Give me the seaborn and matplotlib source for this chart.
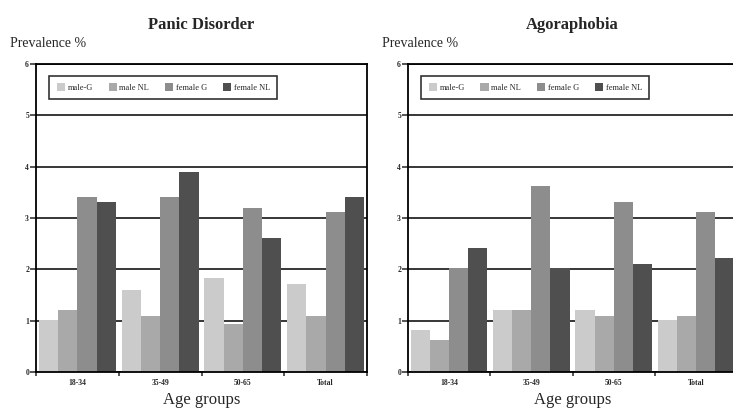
import matplotlib
matplotlib.use('Agg')
import matplotlib.pyplot as plt
import numpy as np
import pandas as pd
import seaborn as sns

# Данные графиков.
age_groups = ['18-34', '35-49', '50-65', 'Total']
groups = ['male-G', 'male NL', 'female G', 'female NL']
panic_male_g = [1.01, 1.60, 1.83, 1.72]
panic_male_nl = [1.20, 1.09, 0.94, 1.09]
panic_female_g = [3.40, 3.40, 3.20, 3.12]
panic_female_nl = [3.32, 3.90, 2.61, 3.40]
agora_male_g = [0.82, 1.20, 1.20, 1.01]
agora_male_nl = [0.62, 1.20, 1.09, 1.09]
agora_female_g = [2.02, 3.62, 3.32, 3.12]
agora_female_nl = [2.42, 2.02, 2.10, 2.22]
titles = ['Panic Disorder', 'Agoraphobia']
legend_labels = ['male-G', 'male NL', 'female G', 'female NL']

colors = ['#cbcbcb', '#a9a9a9', '#8d8d8d', '#4f4f4f']


def make_frame(series):
    rows = []
    for name, values in zip(groups, series):
        for age, v in zip(age_groups, values):
            rows.append({'age': age, 'group': name, 'value': v})
    return pd.DataFrame(rows)


frames = [
    make_frame([panic_male_g, panic_male_nl, panic_female_g, panic_female_nl]),
    make_frame([agora_male_g, agora_male_nl, agora_female_g, agora_female_nl]),
]

sns.set_style('white')
plt.rcParams['font.family'] = ['Liberation Serif', 'DejaVu Serif']

fig = plt.figure(figsize=(7.33, 4.09), dpi=100)
W, H = 733, 409
positions = [
    [36 / W, 37 / H, 331 / W, 308 / H],
    [408 / W, 37 / H, 329 / W, 308 / H],
]

for i, (frame, title, pos) in enumerate(zip(frames, titles, positions)):
    ax = fig.add_axes(pos)
    ax.set_axisbelow(True)
    sns.barplot(
        data=frame,
        x='age',
        y='value',
        hue='group',
        palette=colors,
        width=0.93,
        gap=0,
        saturation=1,
        linewidth=0,
        ax=ax,
    )
    ax.set_ylim(0, 6)
    ax.set_xlim(-0.5, 3.5)
    ax.set_yticks(np.arange(0, 7, 1))
    ax.set_yticklabels([str(v) for v in range(7)], fontsize=5.5,
                       fontweight='bold')
    ax.yaxis.grid(True, color='black', linewidth=1.1)
    ax.tick_params(axis='y', direction='out', length=4, width=1.1,
                   left=True, pad=1)
    # Деления между группами на оси X.
    ax.set_xticks(np.arange(4))
    ax.set_xticklabels(age_groups, fontsize=5.5, fontweight='bold')
    ax.set_xticks(np.arange(-0.5, 4.0, 1), minor=True)
    ax.tick_params(axis='x', which='major', length=0, pad=5)
    ax.tick_params(axis='x', which='minor', direction='out', length=3,
                   width=1.1, bottom=True)
    for s in ax.spines.values():
        s.set_visible(True)
        s.set_color('black')
        s.set_linewidth(1.3)
    ax.set_xlabel('Age groups', fontsize=12, labelpad=4)
    ax.set_ylabel('')
    ax.text(-0.08, 1.068, 'Prevalence %', transform=ax.transAxes,
            fontsize=10, ha='left', va='center')
    ax.set_title(title, fontsize=12, fontweight='bold', pad=25)

    handles, labels = ax.get_legend_handles_labels()
    leg = ax.legend(
        handles=handles,
        labels=legend_labels,
        loc='upper left',
        bbox_to_anchor=(0.027, 0.975),
        ncol=4,
        fontsize=6,
        frameon=True,
        fancybox=False,
        handlelength=1.0,
        handleheight=1.0,
        handletextpad=0.3,
        columnspacing=1.9,
        borderpad=0.9,
    )
    leg.get_frame().set_edgecolor('black')
    leg.get_frame().set_linewidth(1.2)

fig.savefig('out.png', dpi=100)
